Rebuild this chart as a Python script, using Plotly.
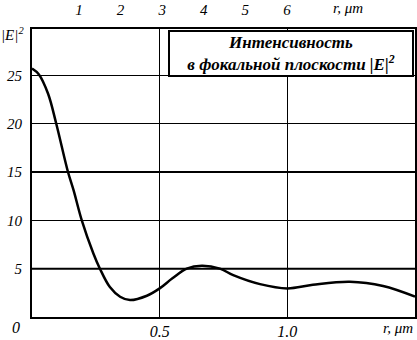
import plotly.graph_objects as go

# radial coordinate r (um) and intensity |E|^2
r_um = [0, 0.027, 0.063, 0.095, 0.141, 0.163, 0.195, 0.24, 0.266, 0.305, 0.345, 0.384,
        0.45, 0.5, 0.55, 0.606, 0.665, 0.736, 0.788, 0.893, 1.0, 1.1, 1.245, 1.375, 1.5]
intensity = [25.7, 25.1, 23.1, 20.0, 15.0, 13.1, 10.0, 6.6, 5.0, 3.1, 2.1, 1.75,
             2.2, 2.96, 4.0, 5.0, 5.3, 5.0, 4.33, 3.4, 2.96, 3.33, 3.64, 3.2, 2.1]

y_ticks = [5, 10, 15, 20, 25]
y_thick = [5, 15]
x_ticks = [0.5, 1.0]
x_tick_labels = ["0.5", "1.0"]
top_ticks = [1, 2, 3, 4, 5, 6]

FONT = "Liberation Serif"

def tf(size):
    return dict(family=FONT, size=size, color="black", style="italic")

fig = go.Figure()
fig.add_trace(go.Scatter(x=r_um, y=intensity, mode="lines",
                         line=dict(color="black", width=2.5, shape="spline", smoothing=1.0),
                         hoverinfo="skip", showlegend=False))
# invisible trace to activate top axis
fig.add_trace(go.Scatter(x=[top_ticks[0]], y=[intensity[0]], xaxis="x2", mode="markers",
                         marker=dict(opacity=0), showlegend=False, hoverinfo="skip"))

for yv in y_thick:
    fig.add_shape(type="line", xref="paper", yref="y", x0=0, x1=1, y0=yv, y1=yv,
                  line=dict(color="black", width=2), layer="below")

fig.update_layout(
    width=417, height=340,
    margin=dict(l=32, r=2, t=29, b=23, autoexpand=False),
    paper_bgcolor="white", plot_bgcolor="white",
    font=dict(family=FONT, color="black"),
    xaxis=dict(range=[0, 1.5], tickvals=x_ticks, ticktext=x_tick_labels, tickfont=tf(16),
               showgrid=True, gridcolor="black", gridwidth=1, zeroline=False, automargin=False,
               showline=True, linecolor="black", linewidth=2, mirror=True, ticks="",
               ticklabelstandoff=-1),
    xaxis2=dict(range=[-0.13, 9.08], overlaying="x", side="top", tickvals=top_ticks,
                tickfont=tf(15), automargin=False,
                showgrid=False, zeroline=False, ticks="", showline=False,
                ticklabelstandoff=10),
    yaxis=dict(range=[0, 29.8], tickvals=y_ticks, tickfont=tf(15), automargin=False,
               showgrid=True, gridcolor="black", gridwidth=1, zeroline=False,
               showline=True, linecolor="black", linewidth=2, mirror=True, ticks="",
               ticklabelstandoff=5),
    annotations=[
        dict(xref="paper", yref="paper", x=0.676, y=0.997, xanchor="center", yanchor="top",
             text="<b><i>Интенсивность<br>в фокальной плоскости |E|<sup>2</sup></i></b>",
             showarrow=False, font=dict(family=FONT, size=17, color="black"),
             bgcolor="white", bordercolor="black", borderwidth=2, borderpad=1,
             align="center", width=240),
        dict(xref="paper", yref="paper", x=1.0, y=-0.038, xanchor="right", yanchor="middle",
             text="<i>r, μm</i>", showarrow=False, font=dict(family=FONT, size=15, color="black")),
        dict(xref="paper", yref="paper", x=0.825, y=1.072, xanchor="center", yanchor="middle",
             text="<i>r, μm</i>", showarrow=False, font=dict(family=FONT, size=15, color="black")),
        dict(xref="paper", yref="paper", x=-0.042, y=-0.038, xanchor="center", yanchor="middle",
             text="<i>0</i>", showarrow=False, font=dict(family=FONT, size=16, color="black")),
        dict(xref="paper", yref="paper", x=-0.05, y=0.983, xanchor="center", yanchor="middle",
             text="<i>|E|<sup>2</sup></i>", showarrow=False,
             font=dict(family=FONT, size=15, color="black")),
    ],
)

fig.write_html("out.html", config={"displayModeBar": False},
               post_script="document.body.style.margin='0';document.body.style.overflow='hidden';")
